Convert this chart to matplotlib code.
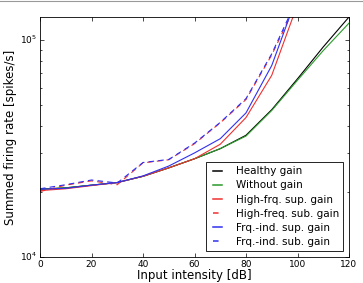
import numpy as np
import matplotlib
matplotlib.use('Agg')
import matplotlib.pyplot as plt
from matplotlib.lines import Line2D

plt.style.use('classic')

intensity = [0, 10, 20, 30, 40, 50, 60, 70, 80, 90, 100, 110, 120]

healthy = [2.05e4, 2.08e4, 2.14e4, 2.2e4, 2.35e4, 2.57e4, 2.83e4, 3.15e4, 3.63e4, 4.76e4, 6.6e4, 9.25e4, 1.27e5]
without = [2.05e4, 2.08e4, 2.14e4, 2.2e4, 2.35e4, 2.57e4, 2.83e4, 3.15e4, 3.6e4, 4.72e4, 6.5e4, 8.9e4, 1.19e5]
hf_sup = [2.02e4, 2.06e4, 2.13e4, 2.2e4, 2.35e4, 2.57e4, 2.83e4, 3.3e4, 4.38e4, 6.85e4, 1.45e5, 3.0e5, 6.0e5]
hf_sub = [2.0e4, 2.14e4, 2.24e4, 2.15e4, 2.71e4, 2.8e4, 3.32e4, 4.14e4, 5.3e4, 8.5e4, 1.5e5, 3.0e5, 6.0e5]
fi_sup = [2.05e4, 2.07e4, 2.14e4, 2.2e4, 2.36e4, 2.62e4, 3.01e4, 3.5e4, 4.6e4, 7.6e4, 1.6e5, 3.2e5, 6.5e5]
fi_sub = [2.06e4, 2.15e4, 2.26e4, 2.19e4, 2.72e4, 2.81e4, 3.34e4, 4.16e4, 5.35e4, 8.6e4, 1.55e5, 3.1e5, 6.2e5]

fig = plt.figure(figsize=(3.63, 2.83), dpi=100, facecolor='white')
ax = fig.add_axes([40 / 363, 26 / 283, 309 / 363, 240 / 283])

dash = (4, 3)
ax.plot(intensity, healthy, color='k', lw=0.8, label='Healthy gain')
ax.plot(intensity, without, color='#2a9a2a', lw=0.8, label='Without gain')
ax.plot(intensity, hf_sup, color='#f03030', lw=0.8, label='High-frq. sup. gain')
ax.plot(intensity, hf_sub, color='#f03030', lw=0.8, ls='--', dashes=dash, label='High-freq. sub. gain')
ax.plot(intensity, fi_sup, color='#3030f0', lw=0.8, label='Frq.-ind. sup. gain')
ax.plot(intensity, fi_sub, color='#3030f0', lw=0.8, ls='--', dashes=dash, label='Frq.-ind. sub. gain')

ax.set_yscale('log')
ax.set_xlim(0, 120)
ax.set_ylim(1e4, 1.27e5)
ax.tick_params(labelsize=6.5, length=3, width=0.5, pad=2)
ax.tick_params(which='minor', length=1.5, width=0.5)
for s in ax.spines.values():
    s.set_linewidth(0.6)
ax.set_xlabel('Input intensity [dB]', fontsize=8.5, labelpad=0)
ax.set_ylabel('Summed firing rate [spikes/s]', fontsize=8.5, labelpad=2)

leg = ax.legend(loc='lower right', fontsize=7.5, handlelength=1.45,
                borderaxespad=0.55, labelspacing=0.4, handletextpad=1.0,
                fancybox=False, borderpad=0.4)
leg.get_frame().set_linewidth(0.6)
for hl in leg.get_lines():
    hl.set_linewidth(1.1)

fig.add_artist(Line2D([0, 1], [0.996, 0.996], color='#999999', lw=0.8,
                      transform=fig.transFigure))

fig.savefig('out.png', dpi=100)
